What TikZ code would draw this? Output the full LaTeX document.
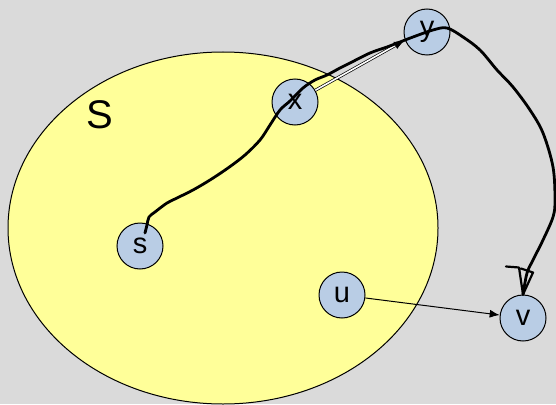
\documentclass[tikz,border=0pt]{standalone}
\usepackage{fontspec}
\setmainfont{Liberation Sans}
\usetikzlibrary{arrows.meta}
\definecolor{bggray}{RGB}{218,218,218}
\definecolor{setyellow}{RGB}{255,255,153}
\definecolor{nodeblue}{RGB}{185,205,229}
\tikzset{
  vert/.style={circle, draw=black, line width=1pt, fill=nodeblue, minimum size=46pt, inner sep=0pt, font=\fontsize{29}{29}\selectfont},
  edge/.style={line width=1pt, -{Latex[length=10pt,width=8pt]}},
  hand/.style={line width=2.8pt, line cap=round, line join=round},
}
\begin{document}
\begin{tikzpicture}[x=1pt,y=-1pt]
\useasboundingbox (0,0) rectangle (556,404);
\fill[bggray] (0,0) rectangle (556,404);
\begin{scope}
\clip (0,0) rectangle (556,404);
\draw[fill=setyellow, line width=1pt] (223,228) ellipse [x radius=215, y radius=176];
\end{scope}
\node[font=\fontsize{40}{40}\selectfont] (Slabel) at (100,115) {S};
\node[vert] (s) at (140,246) {s};
\node[vert] (x) at (295,102) {x};
\node[vert] (y) at (427,32) {y};
\node[vert] (u) at (342,295) {u};
\node[vert] (v) at (523,318) {v};
\draw[edge] (u) -- (v);
\draw[line width=0.7pt, double, double distance=1.6pt, -{Latex[length=11pt,width=8pt]}] (x.30) -- (y.200);
\draw[hand] plot[smooth, tension=0.55] coordinates {
 (145,233) (147,225) (149,217) (155,212) (167,203) (177,198) (193,190) (210,180)
 (228,168) (245,155) (260,140) (270,125) (280,110) (290,101) (303,88) (315,80) (327,75) (340,68) (350,63)
 (370,53) (387,47) (400,42) (413,37) (433,30) (447,28) (463,37) (480,50) (497,70) (513,87)
 (530,110) (543,133) (553,167) (555,200) (553,217) (543,240) (533,260) (527,273) (v.north)
};
\draw[line width=2.2pt, line join=round, line cap=round]
  ([shift={(-17,-28)}]v.north) -- ([shift={(-4,-27)}]v.north) -- (v.north) -- ([shift={(10,-22)}]v.north) -- ([shift={(-2,-26)}]v.north);
\end{tikzpicture}
\end{document}
